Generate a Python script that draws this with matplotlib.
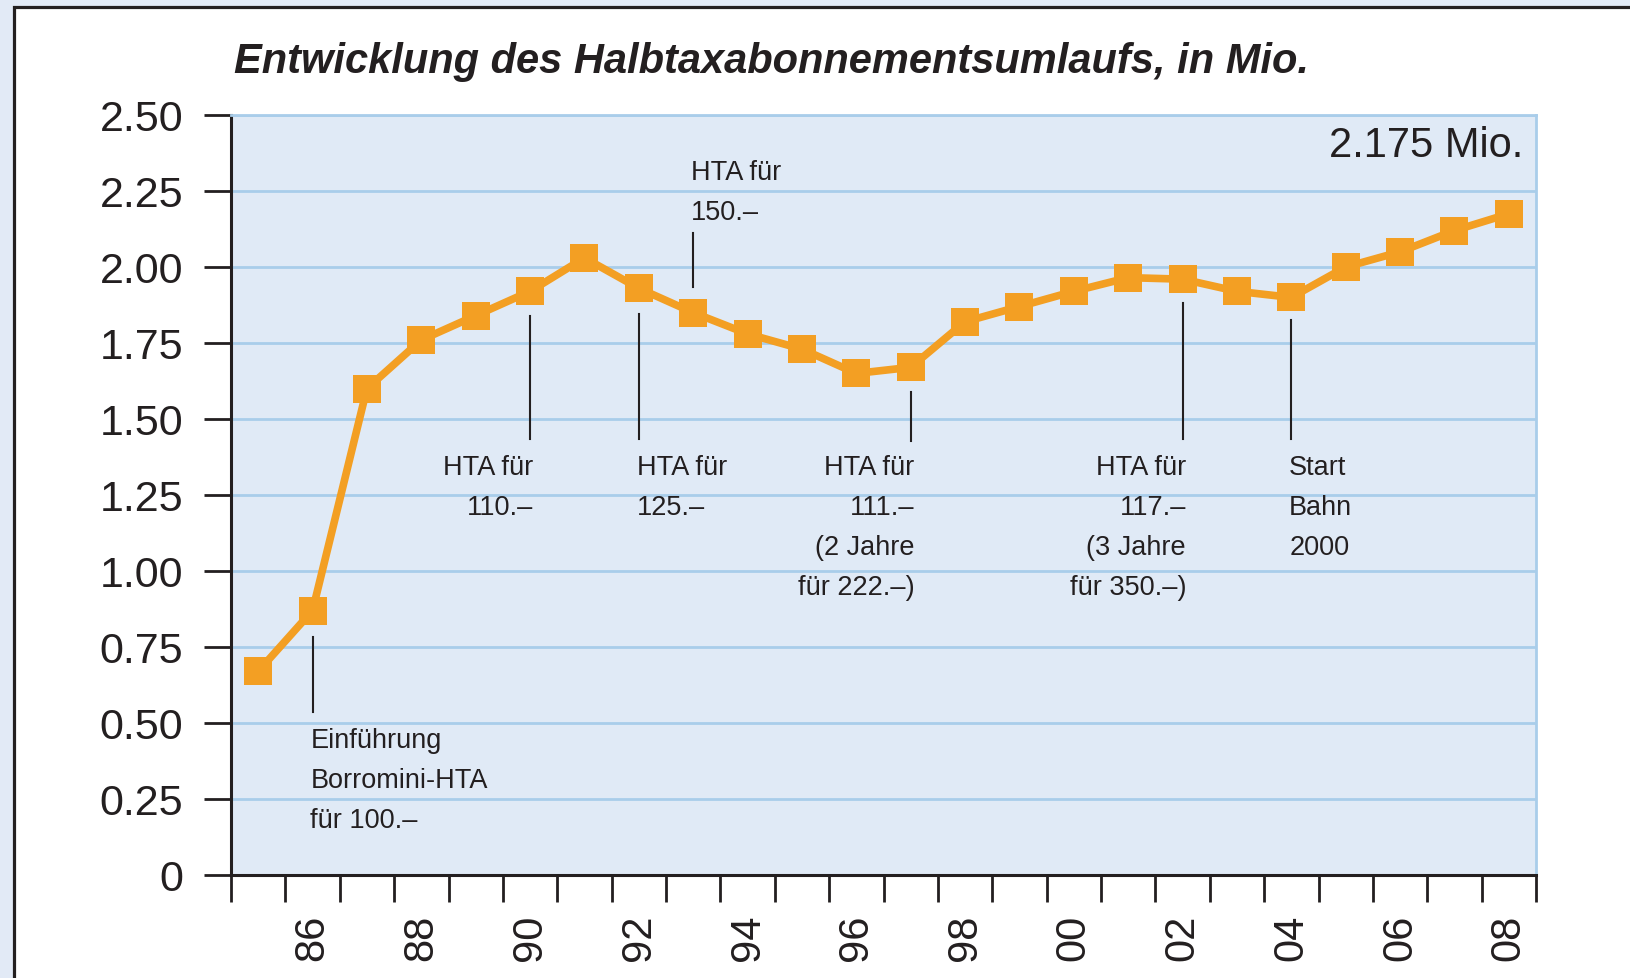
import matplotlib
matplotlib.use("Agg")
import matplotlib.pyplot as plt
from matplotlib.patches import Rectangle

# ---- data ----
years = list(range(1985, 2009))
values = [0.67, 0.87, 1.60, 1.76, 1.84, 1.92, 2.03, 1.93, 1.85, 1.78, 1.73, 1.65,
          1.67, 1.82, 1.87, 1.92, 1.965, 1.96, 1.92, 1.90, 2.00, 2.05, 2.12, 2.175]
label_years = list(range(1986, 2009, 2))
label_texts = ["86", "88", "90", "92", "94", "96", "98", "00", "02", "04", "06", "08"]
yticks = [0, 0.25, 0.5, 0.75, 1.0, 1.25, 1.5, 1.75, 2.0, 2.25, 2.5]
ytick_labels = ["0", "0.25", "0.50", "0.75", "1.00", "1.25", "1.50", "1.75", "2.00", "2.25", "2.50"]
title = "Entwicklung des Halbtaxabonnementsumlaufs, in Mio."
total_label = "2.175 Mio."

# annotations: (year, line_y0, line_y1, text_y(top), text, align)
notes = [
    (1986, 0.783, 0.536, 0.487, "Einführung\nBorromini-HTA\nfür 100.–", "left"),
    (1990, 1.839, 1.434, 1.385, "HTA für\n110.–", "right"),
    (1992, 1.845, 1.434, 1.385, "HTA für\n125.–", "left"),
    (1993, 2.112, 1.934, 2.355, "HTA für\n150.–", "left"),
    (1997, 1.589, 1.428, 1.385, "HTA für\n111.–\n(2 Jahre\nfür 222.–)", "right"),
    (2002, 1.883, 1.434, 1.385, "HTA für\n117.–\n(3 Jahre\nfür 350.–)", "right"),
    (2004, 1.826, 1.434, 1.385, "Start\nBahn\n2000", "left"),
]

# ---- style ----
FONT = ["Liberation Sans", "DejaVu Sans"]
DARK = "#231f20"
ORANGE = "#f39f23"
GRID = "#a9cdea"
PLOTBG = "#e0eaf6"
OUTER = "#e2eaf6"

W, H = 1630, 979
fig = plt.figure(figsize=(W / 100, H / 100), dpi=100)
fig.patch.set_facecolor(OUTER)
fig.add_artist(Rectangle((13.5 / W, -0.1), 1.2, 1.1 - 7.5 / H, transform=fig.transFigure,
                         facecolor="white", edgecolor=DARK, linewidth=2.3, zorder=-10))

ax = fig.add_axes([231 / W, (H - 876) / H, (1536 - 231) / W, (876 - 116) / H])
ax.set_facecolor(PLOTBG)
ax.set_xlim(1984.5, 2008.5)
ax.set_ylim(0, 2.5)

# grid
ax.set_yticks(yticks)
ax.set_yticklabels(ytick_labels, family=FONT, fontsize=31, color=DARK)
ax.yaxis.grid(True, color=GRID, linewidth=2.0)
ax.set_axisbelow(True)
ax.tick_params(axis="y", length=19.5, width=2.0, color=DARK, pad=15)

# x ticks: major at boundaries, labels at even-year centres (minor)
ax.set_xticks([y - 0.5 for y in years] + [years[-1] + 0.5])
ax.set_xticklabels([])
ax.tick_params(axis="x", which="major", length=19.5, width=2.0, color=DARK)
ax.set_xticks(label_years, minor=True)
ax.set_xticklabels(label_texts, minor=True, rotation=90, family=FONT, fontsize=30,
                   color=DARK, va="top", ha="center")
ax.tick_params(axis="x", which="minor", length=0, pad=28)

for s in ["left", "bottom"]:
    ax.spines[s].set_color(DARK)
    ax.spines[s].set_linewidth(2.2)
for s in ["top", "right"]:
    ax.spines[s].set_color(GRID)
    ax.spines[s].set_linewidth(2.0)

# series
ax.plot(years, values, color=ORANGE, linewidth=5.5, marker="s", markersize=19.5,
        markeredgewidth=0, zorder=5, clip_on=False)

# annotations
for yr, y0, y1, ty, txt, al in notes:
    ax.plot([yr, yr], [y0, y1], color=DARK, linewidth=1.5, zorder=4)
    dx = 2.5 if al == "right" else -1.5
    ax.annotate(txt, xy=(yr, ty), xytext=(dx, 0), textcoords="offset points",
                ha=al, va="top", multialignment=al, family=FONT, fontsize=19.5,
                color=DARK, linespacing=1.7)

ax.text(1523 / W, (H - 146) / H, total_label, transform=fig.transFigure, ha="right",
        va="center", family=FONT, fontsize=30, color=DARK)

fig.text(234 / W, (H - 73) / H, title, ha="left", va="baseline", family=FONT,
         fontsize=30, fontweight="bold", fontstyle="italic", color=DARK)

fig.savefig("out.png", dpi=100, facecolor=fig.get_facecolor())
